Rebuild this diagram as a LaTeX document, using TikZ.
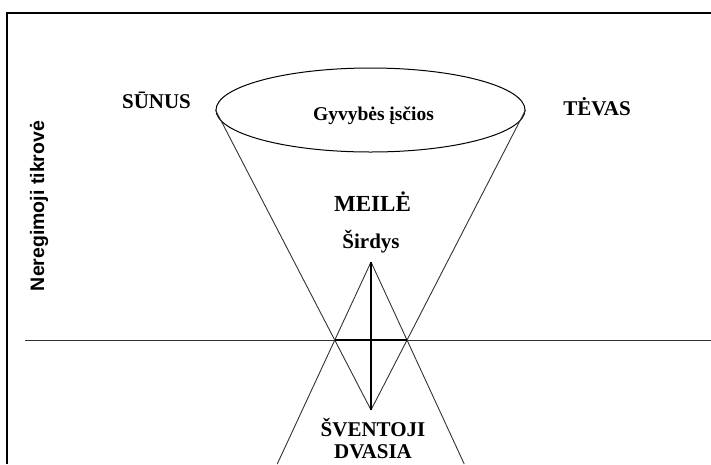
\documentclass[tikz,border=0pt]{standalone}
\usepackage{fontspec}
\setmainfont{Liberation Serif}
\newfontfamily\sansb{Liberation Sans}
\usetikzlibrary{shapes.geometric,calc}
\tikzset{
  lbl/.style={font=\bfseries\fontsize{21}{23}\selectfont, inner sep=0pt, anchor=base},
  thin/.style={line width=0.9pt, draw=black!80},
  heavy/.style={line width=2.6pt, draw=black},
}
\begin{document}
\begin{tikzpicture}[x=1pt,y=-1pt]
\useasboundingbox (0,0) rectangle (711,464);
\fill[white] (0,0) rectangle (711,464);
% frame
\draw[line width=2.6pt] (7,464) -- (7,13) -- (711,13);
% ellipse
\node[ellipse, draw, line width=1pt, minimum width=309pt, minimum height=84pt, inner sep=0pt] (womb) at (370.5,110) {};
\node[lbl, font=\bfseries\fontsize{19.5}{21}\selectfont] (womblbl) at (373.5,120) {Gyvybės įsčios};
% key points
\coordinate (top) at (371,262);
\coordinate (bot) at (371,410);
\coordinate (xl) at (334.8,340);
\coordinate (xr) at (407,340);
\coordinate (hl) at (25,340);
\coordinate (hr) at (711,340);
% horizon
\draw[thin] (hl) -- (hr);
% upper cone
\draw[thin] (womb.west) -- (bot);
\draw[thin] (womb.east) -- (bot);
% lower cone
\draw[thin] (top) -- ($(top)!2.59!(xl)$);
\draw[thin] (top) -- ($(top)!2.59!(xr)$);
% cross
\draw[heavy] (top) -- (bot);
\draw[heavy] (xl) -- (xr);
% labels
\node[lbl] (sunus) at (156.5,108) {SŪNUS};
\node[lbl] (tevas) at (597,115) {TĖVAS};
\node[lbl, font=\bfseries\fontsize{23}{25}\selectfont] (meile) at (372.5,211) {MEILĖ};
\node[lbl] (sirdys) at (371,248) {Širdys};
\node[lbl] (sventoji) at (373,436) {ŠVENTOJI};
\node[lbl] (dvasia) at (373,458) {DVASIA};
\node[inner sep=0pt, anchor=base, rotate=90, font=\sansb\bfseries\fontsize{19.5}{21}\selectfont] (nereg) at (44,206) {Neregimoji tikrovė};
\end{tikzpicture}
\end{document}
